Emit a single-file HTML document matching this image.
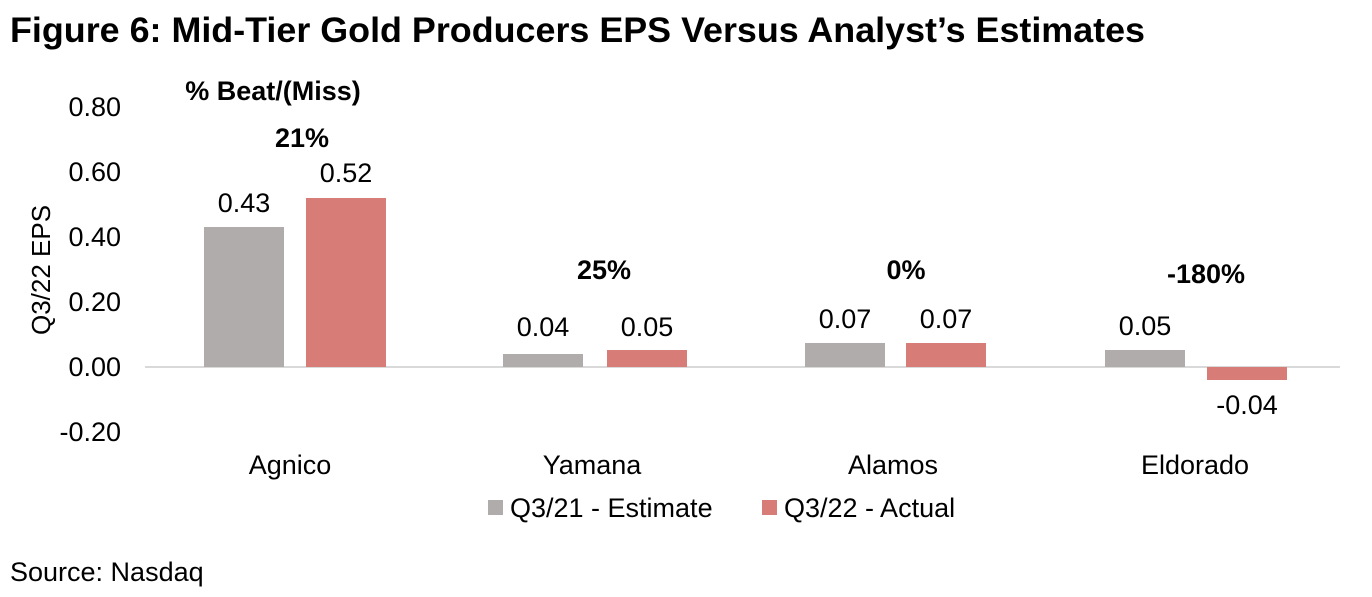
<!DOCTYPE html>
<html><head><meta charset="utf-8"><style>
body{margin:0;background:#fff;width:1372px;height:592px;overflow:hidden;font-family:"Liberation Sans",Arial,sans-serif}
</style></head><body>
<svg width="1372" height="592" xmlns="http://www.w3.org/2000/svg" font-family="Liberation Sans, Arial, sans-serif">
<text x="10" y="42" font-size="35" font-weight="bold" fill="#000" textLength="1135" lengthAdjust="spacingAndGlyphs">Figure 6: Mid-Tier Gold Producers EPS Versus Analyst’s Estimates</text>
<g font-size="27" fill="#000" text-anchor="end">
<text x="121" y="116">0.80</text>
<text x="121" y="181">0.60</text>
<text x="121" y="246">0.40</text>
<text x="121" y="311">0.20</text>
<text x="121" y="376">0.00</text>
<text x="121" y="441">-0.20</text>
</g>
<text transform="translate(50,270) rotate(-90)" font-size="26" text-anchor="middle">Q3/22 EPS</text>
<line x1="145" y1="367" x2="1340" y2="367" stroke="#d9d9d9" stroke-width="2"/>
<g fill="#b0acab">
<rect x="204" y="227" width="80" height="140"/>
<rect x="503" y="354" width="80" height="13"/>
<rect x="805" y="343" width="80" height="24"/>
<rect x="1105" y="350" width="80" height="17"/>
</g>
<g fill="#d87c78">
<rect x="306" y="198" width="80" height="169"/>
<rect x="607" y="350" width="80" height="17"/>
<rect x="906" y="343" width="80" height="24"/>
<rect x="1207" y="367" width="80" height="13"/>
</g>
<g font-size="27" text-anchor="middle" fill="#000">
<text x="244" y="212">0.43</text>
<text x="346" y="182">0.52</text>
<text x="543" y="336">0.04</text>
<text x="647" y="336">0.05</text>
<text x="845" y="328">0.07</text>
<text x="946" y="328">0.07</text>
<text x="1145" y="335">0.05</text>
<text x="1247" y="414">-0.04</text>
<text x="290" y="474">Agnico</text>
<text x="592" y="474">Yamana</text>
<text x="893" y="474">Alamos</text>
<text x="1195" y="474">Eldorado</text>
</g>
<g font-size="27" font-weight="bold" text-anchor="middle" fill="#000">
<text x="273" y="100">% Beat/(Miss)</text>
<text x="302" y="147">21%</text>
<text x="604" y="279">25%</text>
<text x="906" y="279">0%</text>
<text x="1206" y="283">-180%</text>
</g>
<rect x="488" y="500" width="15" height="15" fill="#b0acab"/>
<text x="510" y="517" font-size="27">Q3/21 - Estimate</text>
<rect x="762" y="500" width="15" height="15" fill="#d87c78"/>
<text x="784" y="517" font-size="27">Q3/22 - Actual</text>
<text x="10" y="581" font-size="27">Source: Nasdaq</text>
</svg>
</body></html>
